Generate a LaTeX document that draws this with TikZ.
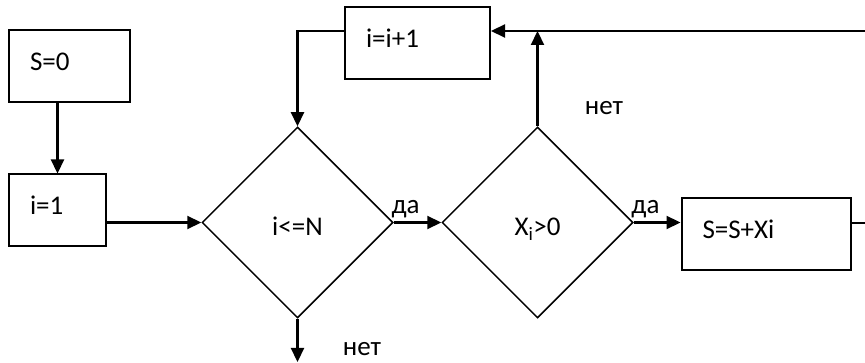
\documentclass[tikz,border=0pt]{standalone}
\usepackage{fontspec}
\setmainfont{Carlito}
\usepackage{tikz}
\usetikzlibrary{arrows.meta,calc,positioning,shapes.geometric}

\tikzset{
  blok/.style={draw, line width=2pt, rectangle, inner xsep=21pt, inner ysep=0pt,
    text width=#1, align=left, minimum height=72pt, text height=17pt, text depth=8pt},
  vetka/.style={draw, line width=1.5pt, diamond, inner sep=0pt,
    minimum width=191pt, minimum height=191pt, text height=27pt, text depth=0pt},
  strelka/.style={line width=2.2pt}
}

\begin{document}
\begin{tikzpicture}[x=1pt, y=-1pt, >={Triangle[length=14pt,width=13pt]},
    font=\fontsize{27pt}{32pt}\selectfont]
    \useasboundingbox (0,0) rectangle (865,363);

    % blocks
    \node[blok=79pt]  (s0)  at (69.5,66.5)  {S=0};
    \node[blok=55pt]  (i1)  at (57.5,210.5) {i=1};
    \node[blok=103pt] (inc) at (417.5,43)   {i=i+1};
    \node[blok=127pt] (sum) at (766,234.5)  {S=S+Xi};

    % conditions
    \node[vetka] (cond) at (297.5,222.5) {i<=N};
    \node[vetka] (pos)  at (537.5,222.5) {X\textsubscript{i}>0};

    % free ends of the loop lines
    \coordinate (topR) at (865,31);
    \coordinate (rEnd) at (865,223);
    \coordinate (bEnd) at (297.5,362);
    \coordinate (jn)   at (537.5,31);
    \coordinate (lTurn) at (297.5,31);

    % connectors
    \draw[strelka,->] (s0.south -| i1.north) -- (i1.north);
    \draw[strelka,->] (i1.east |- cond.west) -- (cond.west);
    \draw[strelka,->] (cond.east) -- (pos.west) node[pos=0.25, above] {да};
    \draw[strelka,->] (pos.east) -- (pos.east -| sum.west) node[pos=0.25, above] {да};
    \draw[strelka,->] (cond.south) -- (bEnd);
    \node (netA) at (362,349) {нет};
    \draw[strelka,->] (pos.north) -- (jn);
    \node (netB) at (604,108) {нет};
    \draw[strelka,->] (topR) -- (inc.east |- topR);
    \draw[strelka,->] (inc.west |- lTurn) -- (lTurn) -- (cond.north);
    \draw[strelka] (sum.east |- rEnd) -- (rEnd);
\end{tikzpicture}
\end{document}
